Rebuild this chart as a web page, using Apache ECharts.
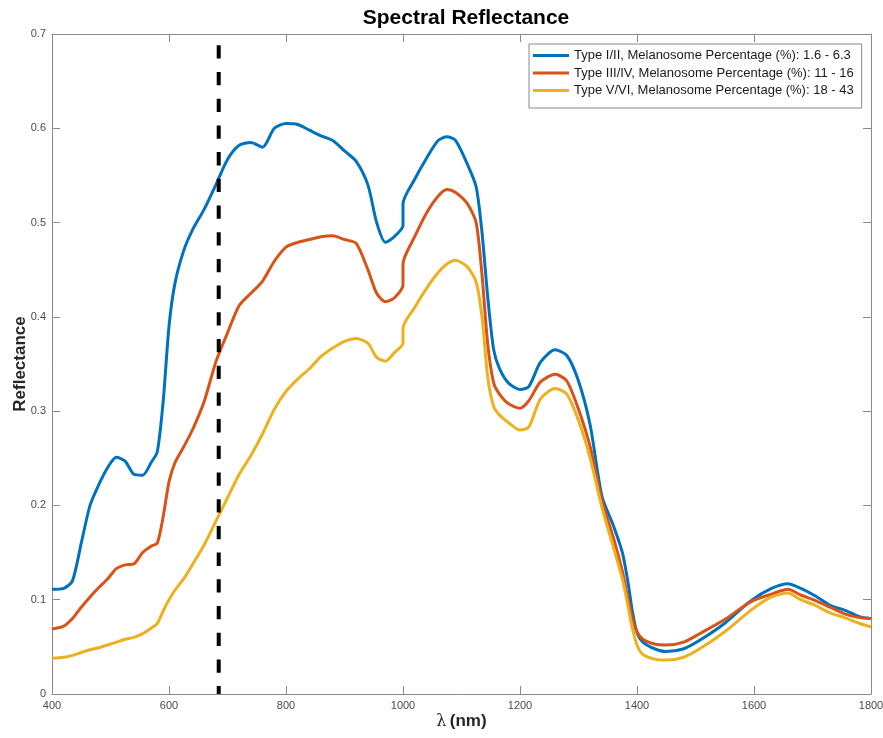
<!DOCTYPE html>
<html>
<head>
<meta charset="utf-8">
<script src="https://cdn.jsdelivr.net/npm/echarts@6/dist/echarts.min.js"></script>
<style>html,body{margin:0;padding:0;background:#fff;}#c{width:883px;height:738px;}</style>
</head>
<body>
<div id="c"></div>
<script>
var wavelengths = [400,420,435,450,465,480,495,510,525,540,555,570,580,590,600,610,625,640,660,680,700,720,740,760,780,800,820,840,860,880,900,920,940,955,970,985,1000,1000,1020,1040,1060,1075,1090,1110,1125,1135,1145,1155,1165,1180,1200,1215,1235,1260,1280,1300,1320,1340,1360,1375,1385,1392,1400,1410,1430,1450,1480,1510,1550,1595,1630,1658,1680,1705,1730,1755,1780,1800];

var typeI_II = [0.111,0.112,0.120,0.160,0.200,0.222,0.240,0.251,0.247,0.233,0.232,0.246,0.257,0.310,0.390,0.435,0.470,0.492,0.514,0.540,0.567,0.582,0.585,0.580,0.600,0.605,0.604,0.598,0.592,0.587,0.576,0.565,0.540,0.500,0.479,0.485,0.497,0.520,0.546,0.568,0.587,0.591,0.587,0.562,0.538,0.490,0.420,0.365,0.345,0.330,0.323,0.326,0.352,0.365,0.359,0.332,0.285,0.210,0.178,0.150,0.117,0.088,0.065,0.055,0.048,0.045,0.048,0.058,0.075,0.099,0.112,0.117,0.112,0.104,0.094,0.089,0.082,0.080];

var typeIII_IV = [0.069,0.072,0.080,0.092,0.103,0.113,0.122,0.133,0.137,0.138,0.150,0.157,0.160,0.188,0.225,0.245,0.262,0.280,0.310,0.352,0.383,0.412,0.425,0.438,0.459,0.474,0.479,0.482,0.485,0.486,0.482,0.478,0.450,0.425,0.416,0.420,0.434,0.456,0.485,0.510,0.528,0.535,0.532,0.520,0.500,0.445,0.370,0.330,0.318,0.308,0.303,0.311,0.331,0.339,0.332,0.302,0.262,0.205,0.165,0.130,0.100,0.080,0.066,0.058,0.053,0.052,0.055,0.065,0.079,0.098,0.106,0.111,0.105,0.099,0.092,0.085,0.081,0.080];

var typeV_VI = [0.038,0.039,0.041,0.044,0.047,0.049,0.052,0.055,0.058,0.060,0.064,0.070,0.075,0.088,0.100,0.110,0.122,0.137,0.158,0.183,0.208,0.233,0.253,0.276,0.302,0.321,0.334,0.345,0.358,0.367,0.374,0.377,0.372,0.357,0.353,0.362,0.372,0.388,0.410,0.430,0.447,0.456,0.460,0.453,0.437,0.400,0.335,0.305,0.296,0.288,0.280,0.283,0.313,0.324,0.318,0.290,0.250,0.198,0.155,0.122,0.092,0.070,0.052,0.042,0.037,0.036,0.039,0.049,0.066,0.089,0.103,0.107,0.100,0.094,0.086,0.081,0.075,0.071];

var markerX = [685, 685];
var markerY = [0.688, 0];

var seriesNames = [
  'Type I/II, Melanosome Percentage (%): 1.6 - 6.3',
  'Type III/IV, Melanosome Percentage (%): 11 - 16',
  'Type V/VI, Melanosome Percentage (%): 18 - 43'
];
var colors = ['#0072BD', '#D95319', '#EDB120'];
var xTicks = [400, 1800, 200];
var yTicks = [0, 0.7, 0.1];

function pairs(xs, ys) { return xs.map(function (x, i) { return [x, ys[i]]; }); }

var axisColor = '#8a8a8a';
var labelColor = '#4a4a4a';
var font = 'Liberation Sans, Arial, Helvetica, sans-serif';

var chart = echarts.init(document.getElementById('c'), null, {renderer: 'canvas'});
var curveData = [typeI_II, typeIII_IV, typeV_VI];
var series = curveData.map(function (arr, i) {
  return {
    name: seriesNames[i], type: 'line', data: pairs(wavelengths, arr),
    showSymbol: false, symbol: 'none', smooth: 0.25,
    lineStyle: {color: colors[i], width: 3}, itemStyle: {color: colors[i]},
    z: 3 + i
  };
});
series.push({
  name: 'marker', type: 'line', data: pairs(markerX, markerY),
  showSymbol: false, symbol: 'none',
  lineStyle: {color: '#000', width: 4, type: [13.3, 13.4]}, z: 10, silent: true
});

function plain(v) { return String(Math.round(v * 1000) / 1000); }

chart.setOption({
  animation: false,
  backgroundColor: '#fff',
  textStyle: {fontFamily: font},
  title: {
    text: 'Spectral Reflectance', left: 461, top: 3, textAlign: 'center',
    textStyle: {fontFamily: font, fontSize: 21, fontWeight: 'bold', color: '#000'}
  },
  grid: {left: 52, right: 12, top: 34, bottom: 44, containLabel: false, outerBoundsMode: 'none'},
  legend: {
    data: seriesNames, orient: 'vertical', left: 529, top: 44,
    icon: 'rect', itemWidth: 36, itemHeight: 3, itemGap: 2.5,
    padding: [4, 8, 10, 4],
    backgroundColor: '#fff', borderColor: '#8a8a8a', borderWidth: 1, borderRadius: 0,
    textStyle: {fontFamily: font, fontSize: 13, color: '#1a1a1a', lineHeight: 15}
  },
  xAxis: [{
    type: 'value', min: xTicks[0], max: xTicks[1], interval: xTicks[2],
    name: '{l|λ} {b|(nm)}', nameLocation: 'middle', nameGap: 19, nameMoveOverlap: false,
    nameTextStyle: {rich: {
      l: {fontFamily: 'DejaVu Serif, serif', fontSize: 16, color: '#262626'},
      b: {fontFamily: font, fontSize: 17, fontWeight: 'bold', color: '#262626'}
    }},
    axisLine: {show: true, lineStyle: {color: axisColor, width: 1}},
    axisTick: {show: true, inside: true, length: 8, lineStyle: {color: axisColor}},
    axisLabel: {color: labelColor, fontSize: 11, margin: 6, fontFamily: font, formatter: plain},
    splitLine: {show: false}
  }, {
    type: 'value', position: 'top', min: xTicks[0], max: xTicks[1], interval: xTicks[2],
    axisLine: {show: true, onZero: false, lineStyle: {color: axisColor, width: 1}},
    axisTick: {show: true, inside: true, length: 8, lineStyle: {color: axisColor}},
    axisLabel: {show: false}, splitLine: {show: false}
  }],
  yAxis: [{
    type: 'value', min: yTicks[0], max: yTicks[1], interval: yTicks[2],
    name: 'Reflectance', nameLocation: 'middle', nameGap: 23, nameRotate: 90, nameMoveOverlap: false,
    nameTextStyle: {fontFamily: font, fontSize: 17, fontWeight: 'bold', color: '#262626'},
    axisLine: {show: true, lineStyle: {color: axisColor, width: 1}},
    axisTick: {show: true, inside: true, length: 8, lineStyle: {color: axisColor}},
    axisLabel: {color: labelColor, fontSize: 11, margin: 6, fontFamily: font, formatter: plain},
    splitLine: {show: false}
  }, {
    type: 'value', position: 'right', min: yTicks[0], max: yTicks[1], interval: yTicks[2],
    axisLine: {show: true, onZero: false, lineStyle: {color: axisColor, width: 1}},
    axisTick: {show: true, inside: true, length: 8, lineStyle: {color: axisColor}},
    axisLabel: {show: false}, splitLine: {show: false}
  }],
  series: series
});
</script>
</body>
</html>
